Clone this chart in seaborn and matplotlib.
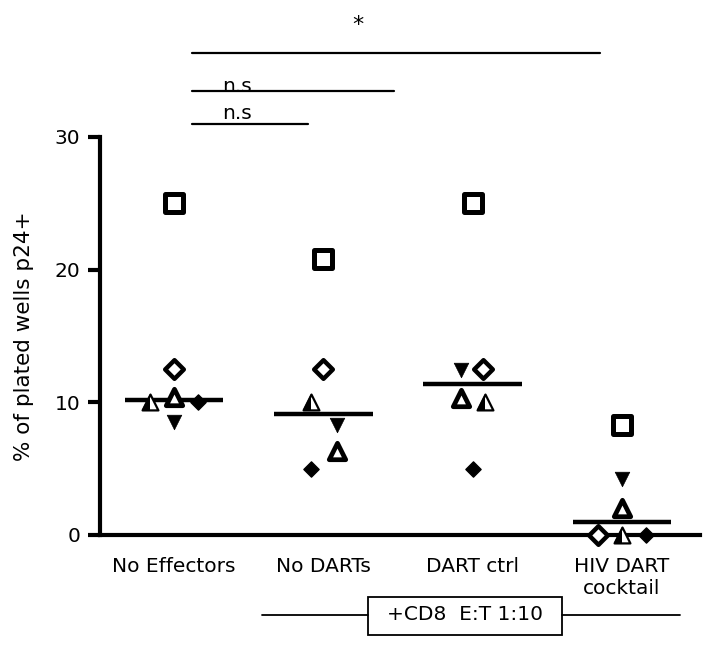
import numpy as np
import pandas as pd
import matplotlib
matplotlib.use("Agg")
import matplotlib.pyplot as plt
import seaborn as sns
from matplotlib.markers import MarkerStyle
from matplotlib.lines import Line2D
from matplotlib.patches import Rectangle

# ---------------- data ----------------
groups = ["No Effectors", "No DARTs", "DART ctrl", "HIV DART\ncocktail"]
donor_square = [25.0, 20.8, 25.0, 8.3]
donor_open_diamond = [12.5, 12.5, 12.5, 0.0]
donor_open_triangle = [10.4, 6.3, 10.3, 2.0]
donor_half_triangle = [10.0, 10.0, 10.0, 0.0]
donor_filled_diamond = [10.0, 5.0, 5.0, 0.0]
donor_triangle_down = [8.5, 8.3, 12.4, 4.2]
y_ticks = [0, 10, 20, 30]
y_label = "% of plated wells p24+"
sig_labels = ["*", "n.s", "n.s"]
bottom_label = "+CD8  E:T 1:10"

donors = {
    "square": donor_square,
    "open_diamond": donor_open_diamond,
    "open_triangle": donor_open_triangle,
    "half_triangle": donor_half_triangle,
    "filled_diamond": donor_filled_diamond,
    "triangle_down": donor_triangle_down,
}

# horizontal scatter offsets (layout only)
x_offsets = {
    "square": [0, 0, 0, 0],
    "open_diamond": [0, 0, 0.07, -0.16],
    "open_triangle": [0, 0.09, -0.08, 0],
    "half_triangle": [-0.16, -0.08, 0.08, 0],
    "filled_diamond": [0.16, -0.08, 0, 0.16],
    "triangle_down": [0, 0.09, -0.08, 0],
}

rows = []
for d, vals in donors.items():
    for gi, (g, v) in enumerate(zip(groups, vals)):
        rows.append(dict(group=g, donor=d, value=v, xpos=gi + x_offsets[d][gi]))
df = pd.DataFrame(rows)

# ---------------- style ----------------
sns.set_style("ticks")
plt.rcParams["font.family"] = ["DejaVu Sans"]
plt.rcParams["text.color"] = "black"
plt.rcParams["axes.labelcolor"] = "black"
plt.rcParams["axes.edgecolor"] = "black"
plt.rcParams["xtick.color"] = "black"
plt.rcParams["ytick.color"] = "black"

FS = 14.5
W, H = 705, 646
fig = plt.figure(figsize=(W / 100, H / 100), dpi=100)
ax = fig.add_axes([100 / W, 1 - 535 / H, 600 / W, 398 / H])

# median lines
sns.boxplot(data=df, x="group", y="value", order=groups, ax=ax,
            showbox=False, showcaps=False, showfliers=False,
            whiskerprops={"visible": False},
            medianprops={"color": "black", "linewidth": 3.2},
            width=0.66)

styles = {
    "square": dict(marker="s", s=150, facecolor="white", edgecolor="black", linewidth=3.6),
    "open_diamond": dict(marker="D", s=90, facecolor="white", edgecolor="black", linewidth=3.2),
    "open_triangle": dict(marker="^", s=140, facecolor="white", edgecolor="black", linewidth=3.4),
    "filled_diamond": dict(marker="D", s=60, facecolor="black", edgecolor="black", linewidth=1),
    "triangle_down": dict(marker="v", s=110, facecolor="black", edgecolor="black", linewidth=0.5),
}

for d in donors:
    sub = df[df.donor == d]
    if d == "half_triangle":
        sns.scatterplot(data=sub, x="xpos", y="value", ax=ax, marker="^", s=130,
                        facecolor="white", edgecolor="black", linewidth=1.6,
                        clip_on=False, zorder=3, legend=False)
        sns.scatterplot(data=sub, x="xpos", y="value", ax=ax,
                        marker=MarkerStyle("^", fillstyle="left"), s=130,
                        color="black", linewidth=0, clip_on=False, zorder=3,
                        legend=False)
    else:
        sns.scatterplot(data=sub, x="xpos", y="value", ax=ax, clip_on=False,
                        zorder=3, legend=False, **styles[d])

ax.set_xlim(-0.496, 3.523)
ax.set_ylim(0, 30)
ax.set_yticks(y_ticks)
ax.set_xticks(range(len(groups)))
ax.set_xticklabels(groups, fontsize=FS, linespacing=1.2)
ax.tick_params(axis="x", length=0, pad=16)
ax.tick_params(axis="y", length=9, width=3, labelsize=FS, pad=5)
ax.set_xlabel("")
ax.set_ylabel(y_label, fontsize=15.5, labelpad=15)
sns.despine(ax=ax)
ax.spines["left"].set_linewidth(3)
ax.spines["bottom"].set_linewidth(3)

# significance bars (outside axes, data coordinates)
sig_bars = [(0.12, 2.85, 36.3), (0.12, 1.47, 33.45), (0.12, 0.9, 30.95)]
sig_text = [(1.23, 37.7), (0.42, 33.1), (0.42, 31.05)]
sig_size = [16, FS, FS]
for (x0, x1, y), (tx, ty), lab, fs in zip(sig_bars, sig_text, sig_labels, sig_size):
    ax.plot([x0, x1], [y, y], color="black", lw=1.6, clip_on=False)
    ax.text(tx, ty, lab, ha="center", va="bottom", fontsize=fs, clip_on=False)

# bottom bracket with box
yb = 1 - 615 / H
fig.add_artist(Line2D([262 / W, 368 / W], [yb, yb], color="black", lw=1.3))
fig.add_artist(Line2D([562 / W, 680 / W], [yb, yb], color="black", lw=1.3))
fig.add_artist(Rectangle((368 / W, 1 - 635 / H), 194 / W, 38 / H, fill=False,
                         edgecolor="black", lw=1.3))
fig.text(465 / W, yb, bottom_label, ha="center", va="center", fontsize=FS)

fig.savefig("out.png", dpi=100)
